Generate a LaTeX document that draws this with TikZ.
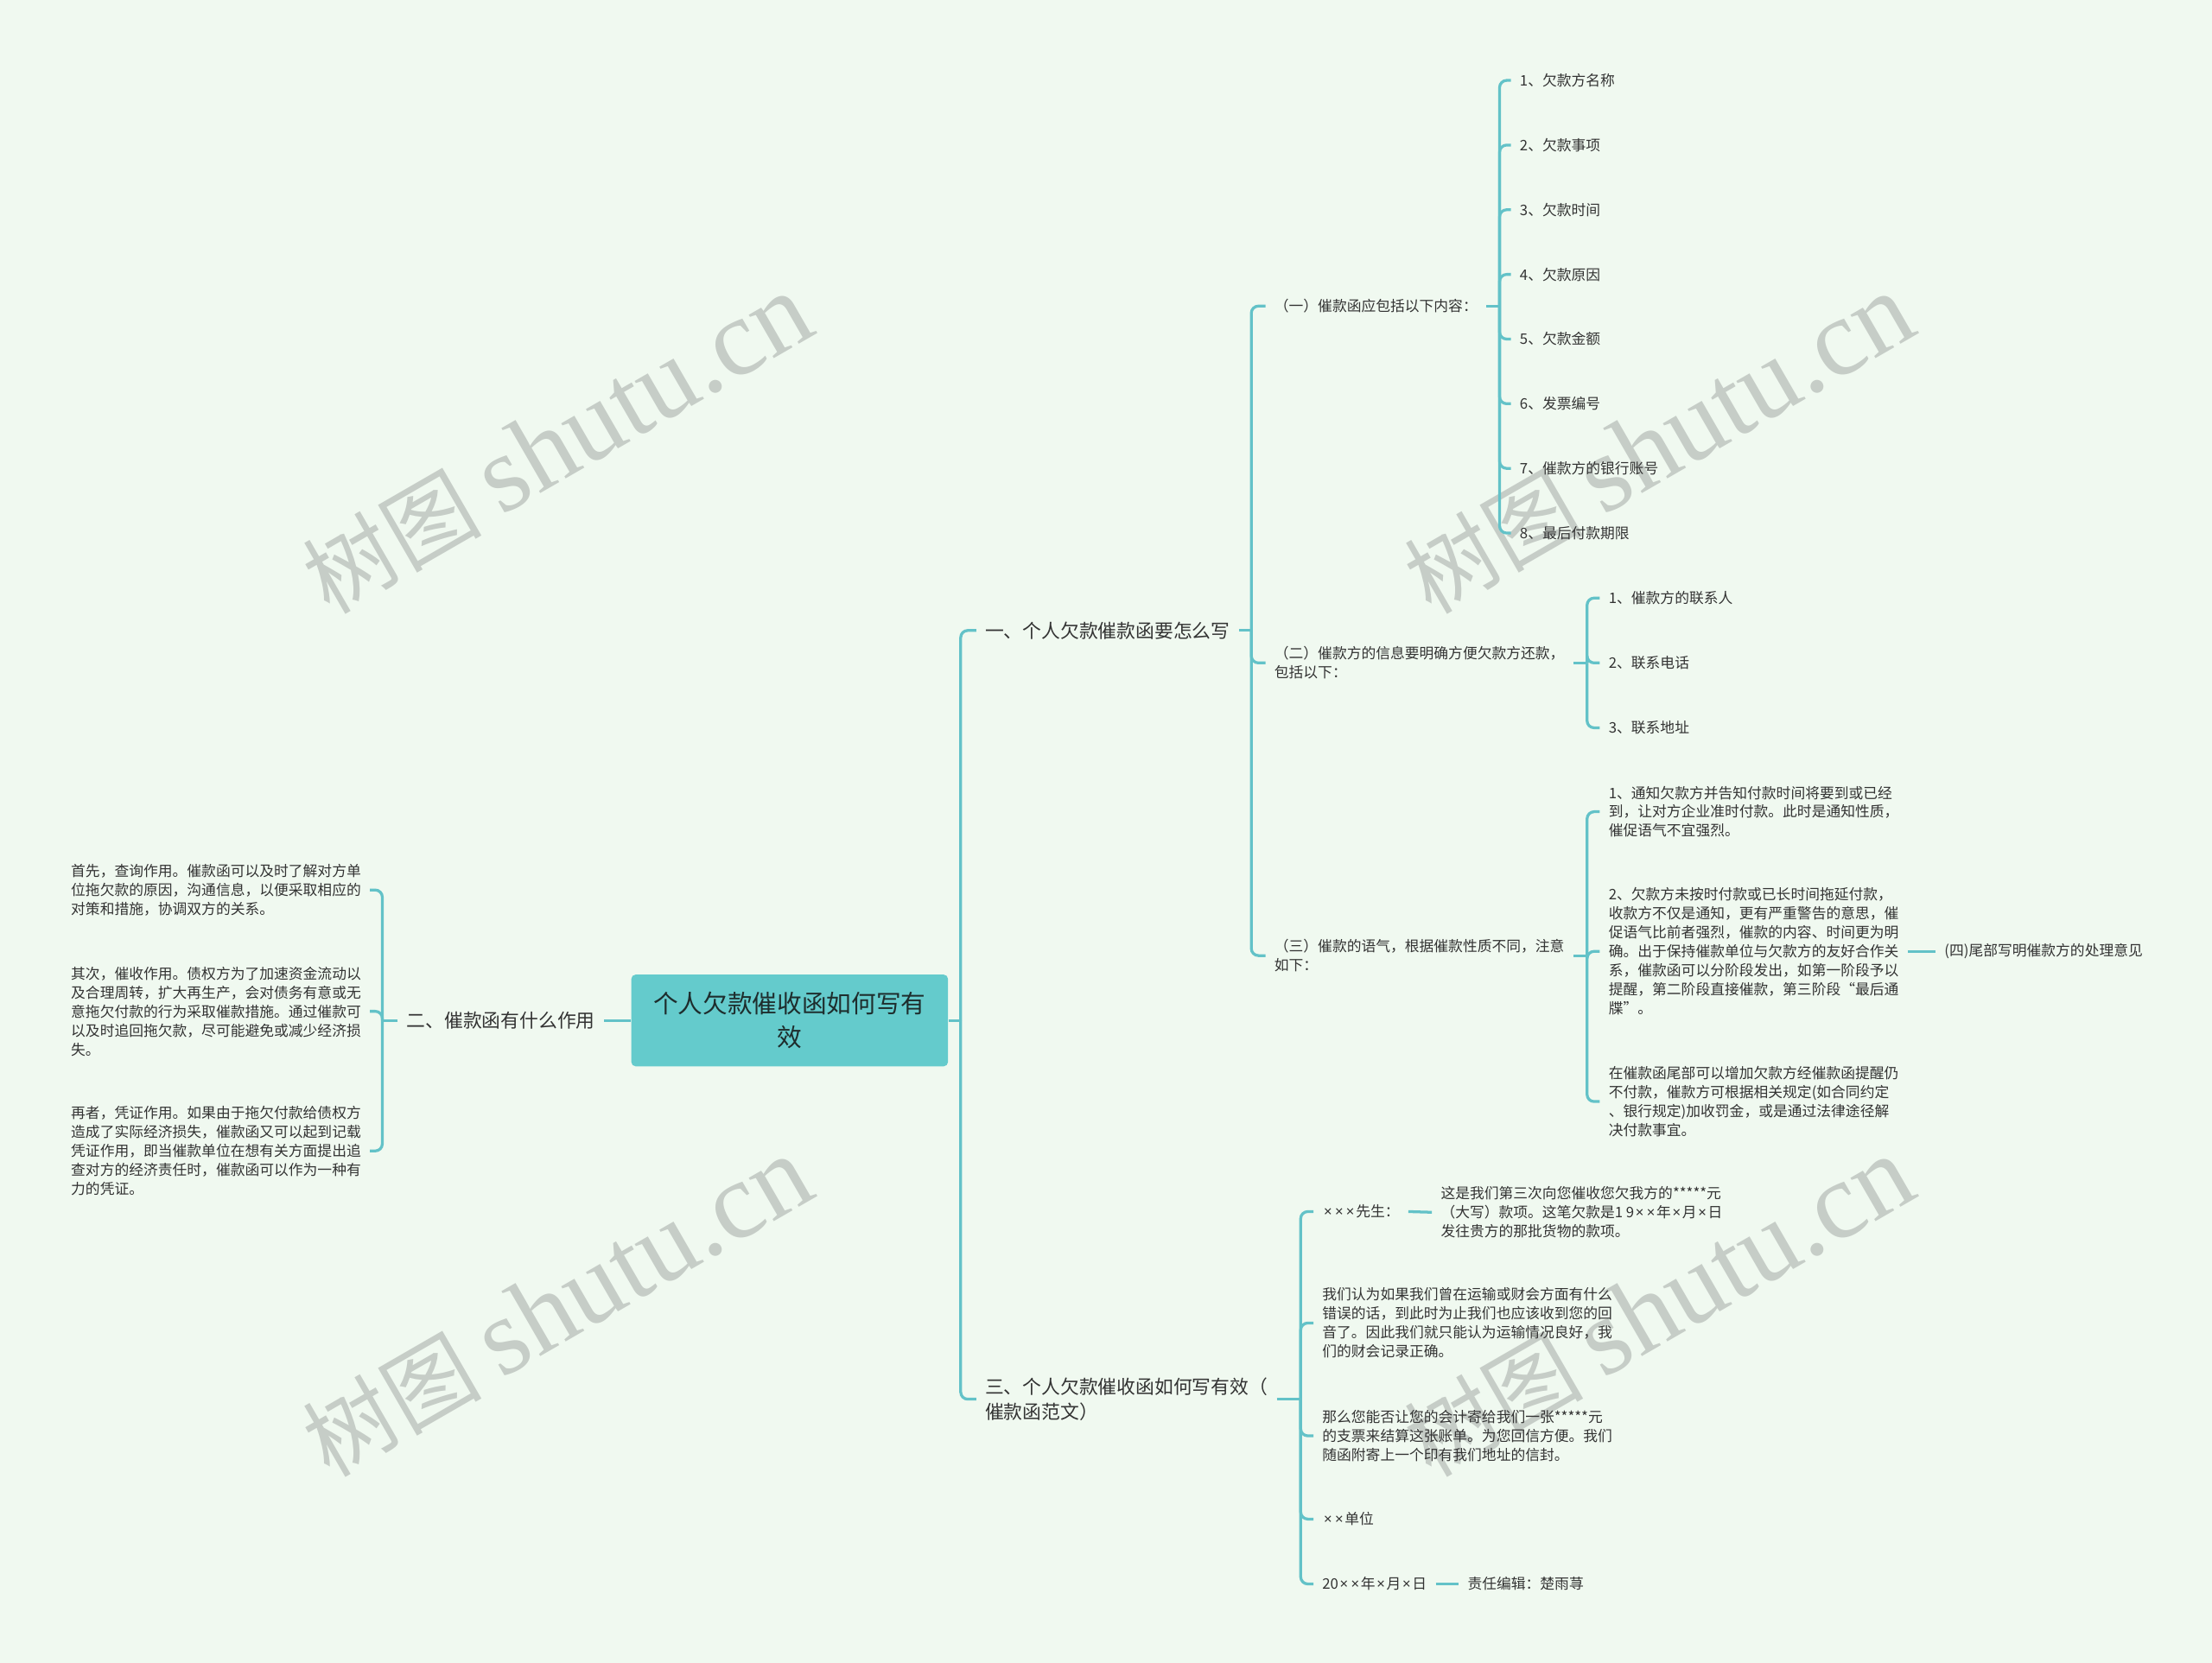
\documentclass[tikz,border=0pt]{standalone}
\usepackage{fontspec}
\setmainfont{Noto Sans CJK SC}
\newfontfamily\wmserif{Liberation Serif}
\newfontfamily\latinsans{Noto Sans}
\newcommand{\tm}{\kern0.1em{\latinsans ×}\kern0.1em}
\definecolor{bgmint}{RGB}{240,249,240}
\definecolor{linkteal}{RGB}{99,194,200}
\definecolor{rootteal}{RGB}{100,203,204}
\definecolor{txtgray}{RGB}{51,51,51}
\definecolor{rootdark}{RGB}{30,45,45}
\definecolor{wmgray}{RGB}{198,205,199}
\begin{document}
\begin{tikzpicture}[x=0.02cm, y=-0.02cm,
    link/.style={draw=linkteal, line width=0.04cm, rounded corners=0.1cm},
    topic/.style={anchor=west, inner xsep=0.12cm, inner ysep=0pt, text=txtgray, align=left, font=\fontsize{7.6}{9.9}\selectfont},
    leaf/.style={anchor=west, inner xsep=0.12cm, inner ysep=0pt, text=txtgray, align=left, font=\fontsize{5.85}{7.66}\selectfont},
    wmark/.style={text=wmgray, rotate=30, inner sep=0pt, font=\fontsize{36}{40}\selectfont}]
    \fill[bgmint] (0,0) rectangle (1568,1179);
    \useasboundingbox (0,0) rectangle (1568,1179);
    \foreach \wx/\wy [count=\i] in {395/315, 1176/315, 395/927, 1176/927}
        \node[wmark] (wm\i) at (\wx,\wy) {树图 {\wmserif\fontsize{44}{48}\selectfont shutu.cn}};

    \node[fill=rootteal, rounded corners=0.06cm, minimum width=4.49cm, minimum height=1.3cm, align=center, text=rootdark, font=\fontsize{10}{13.6}\selectfont] (root) at (559.75,723.5) {个人欠款催收函如何写有\\效};

    \node[topic] (one) at (692,447) {一、个人欠款催款函要怎么写};
    \node[topic] (two) at (282,723.5) {二、催款函有什么作用};
    \node[topic] (three) at (692,992) {三、个人欠款催收函如何写有效（\\催款函范文）};
    \coordinate (jr) at (681,723.5);
    \draw[link] (root.east) -- (jr);
    \draw[link] (jr) |- (one.west);
    \draw[link] (jr) |- (three.west);
    \draw[link] (root.west) -- (two.east);

    \node[leaf] (a1) at (897,217) {（一）催款函应包括以下内容：};
    \node[leaf] (a2) at (897,470) {（二）催款方的信息要明确方便欠款方还款，\\包括以下：};
    \node[leaf] (a3) at (897,677.5) {（三）催款的语气，根据催款性质不同，注意\\如下：};
    \coordinate (j1) at (887,447);
    \draw[link] (one.east) -- (j1);
    \foreach \c in {a1,a2,a3}
        \draw[link] (j1) |- (\c.west);

    \coordinate (j11) at (1063,217);
    \draw[link] (a1.east) -- (j11);
    \foreach \t [count=\i] in {1、欠款方名称, 2、欠款事项, 3、欠款时间, 4、欠款原因, 5、欠款金额, 6、发票编号, 7、催款方的银行账号, 8、最后付款期限} {
        \node[leaf] (b\i) at (1071,{57+45.85*(\i-1)}) {\t};
        \draw[link] (j11) |- (b\i.west);
    }

    \coordinate (j12) at (1125,470);
    \draw[link] (a2.east) -- (j12);
    \foreach \t [count=\i] in {1、催款方的联系人, 2、联系电话, 3、联系地址} {
        \node[leaf] (c\i) at (1134,{424+46*(\i-1)}) {\t};
        \draw[link] (j12) |- (c\i.west);
    }

    \node[leaf] (d1) at (1134,575.5) {1、通知欠款方并告知付款时间将要到或已经\\到，让对方企业准时付款。此时是通知性质，\\催促语气不宜强烈。};
    \node[leaf] (d2) at (1134,674.5) {2、欠款方未按时付款或已长时间拖延付款，\\收款方不仅是通知，更有严重警告的意思，催\\促语气比前者强烈，催款的内容、时间更为明\\确。出于保持催款单位与欠款方的友好合作关\\系，催款函可以分阶段发出，如第一阶段予以\\提醒，第二阶段直接催款，第三阶段“最后通\\牒”。};
    \node[leaf] (d3) at (1134,781) {在催款函尾部可以增加欠款方经催款函提醒仍\\不付款，催款方可根据相关规定(如合同约定\\、银行规定)加收罚金，或是通过法律途径解\\决付款事宜。};
    \node[leaf] (e1) at (1372,674.5) {(四)尾部写明催款方的处理意见};
    \coordinate (j13) at (1125,677.5);
    \draw[link] (a3.east) -- (j13);
    \foreach \c in {d1,d2,d3}
        \draw[link] (j13) |- (\c.west);
    \draw[link] (d2.east) -- (e1.west);

    \node[leaf] (p1) at (44,631) {首先，查询作用。催款函可以及时了解对方单\\位拖欠款的原因，沟通信息，以便采取相应的\\对策和措施，协调双方的关系。};
    \node[leaf] (p2) at (44,717) {其次，催收作用。债权方为了加速资金流动以\\及合理周转，扩大再生产，会对债务有意或无\\意拖欠付款的行为采取催款措施。通过催款可\\以及时追回拖欠款，尽可能避免或减少经济损\\失。};
    \node[leaf] (p3) at (44,816) {再者，凭证作用。如果由于拖欠付款给债权方\\造成了实际经济损失，催款函又可以起到记载\\凭证作用，即当催款单位在想有关方面提出追\\查对方的经济责任时，催款函可以作为一种有\\力的凭证。};
    \coordinate (j2) at (271,723.5);
    \draw[link] (two.west) -- (j2);
    \foreach \c in {p1,p2,p3}
        \draw[link] (j2) |- (\c.east);

    \node[leaf] (f1) at (931,859) {\tm\tm\tm 先生：};
    \node[leaf] (f2) at (931,938) {我们认为如果我们曾在运输或财会方面有什么\\错误的话，到此时为止我们也应该收到您的回\\音了。因此我们就只能认为运输情况良好，我\\们的财会记录正确。};
    \node[leaf] (f3) at (931,1018) {那么您能否让您的会计寄给我们一张*****元\\的支票来结算这张账单。为您回信方便。我们\\随函附寄上一个印有我们地址的信封。};
    \node[leaf] (f4) at (931,1077) {\tm\tm 单位};
    \node[leaf] (f5) at (931,1123) {20\tm\tm 年\tm 月\tm 日};
    \node[leaf] (g1) at (1015,859.5) {这是我们第三次向您催收您欠我方的*****元\\（大写）款项。这笔欠款是1 9\tm\tm 年\tm 月\tm 日\\发往贵方的那批货物的款项。};
    \node[leaf] (g5) at (1034,1123) {责任编辑：楚雨荨};
    \coordinate (j3) at (922,992);
    \draw[link] (three.east) -- (j3);
    \foreach \c in {f1,f2,f3,f4,f5}
        \draw[link] (j3) |- (\c.west);
    \draw[link] (f1.east) -- (g1.west);
    \draw[link] (f5.east) -- (g5.west);
\end{tikzpicture}
\end{document}
